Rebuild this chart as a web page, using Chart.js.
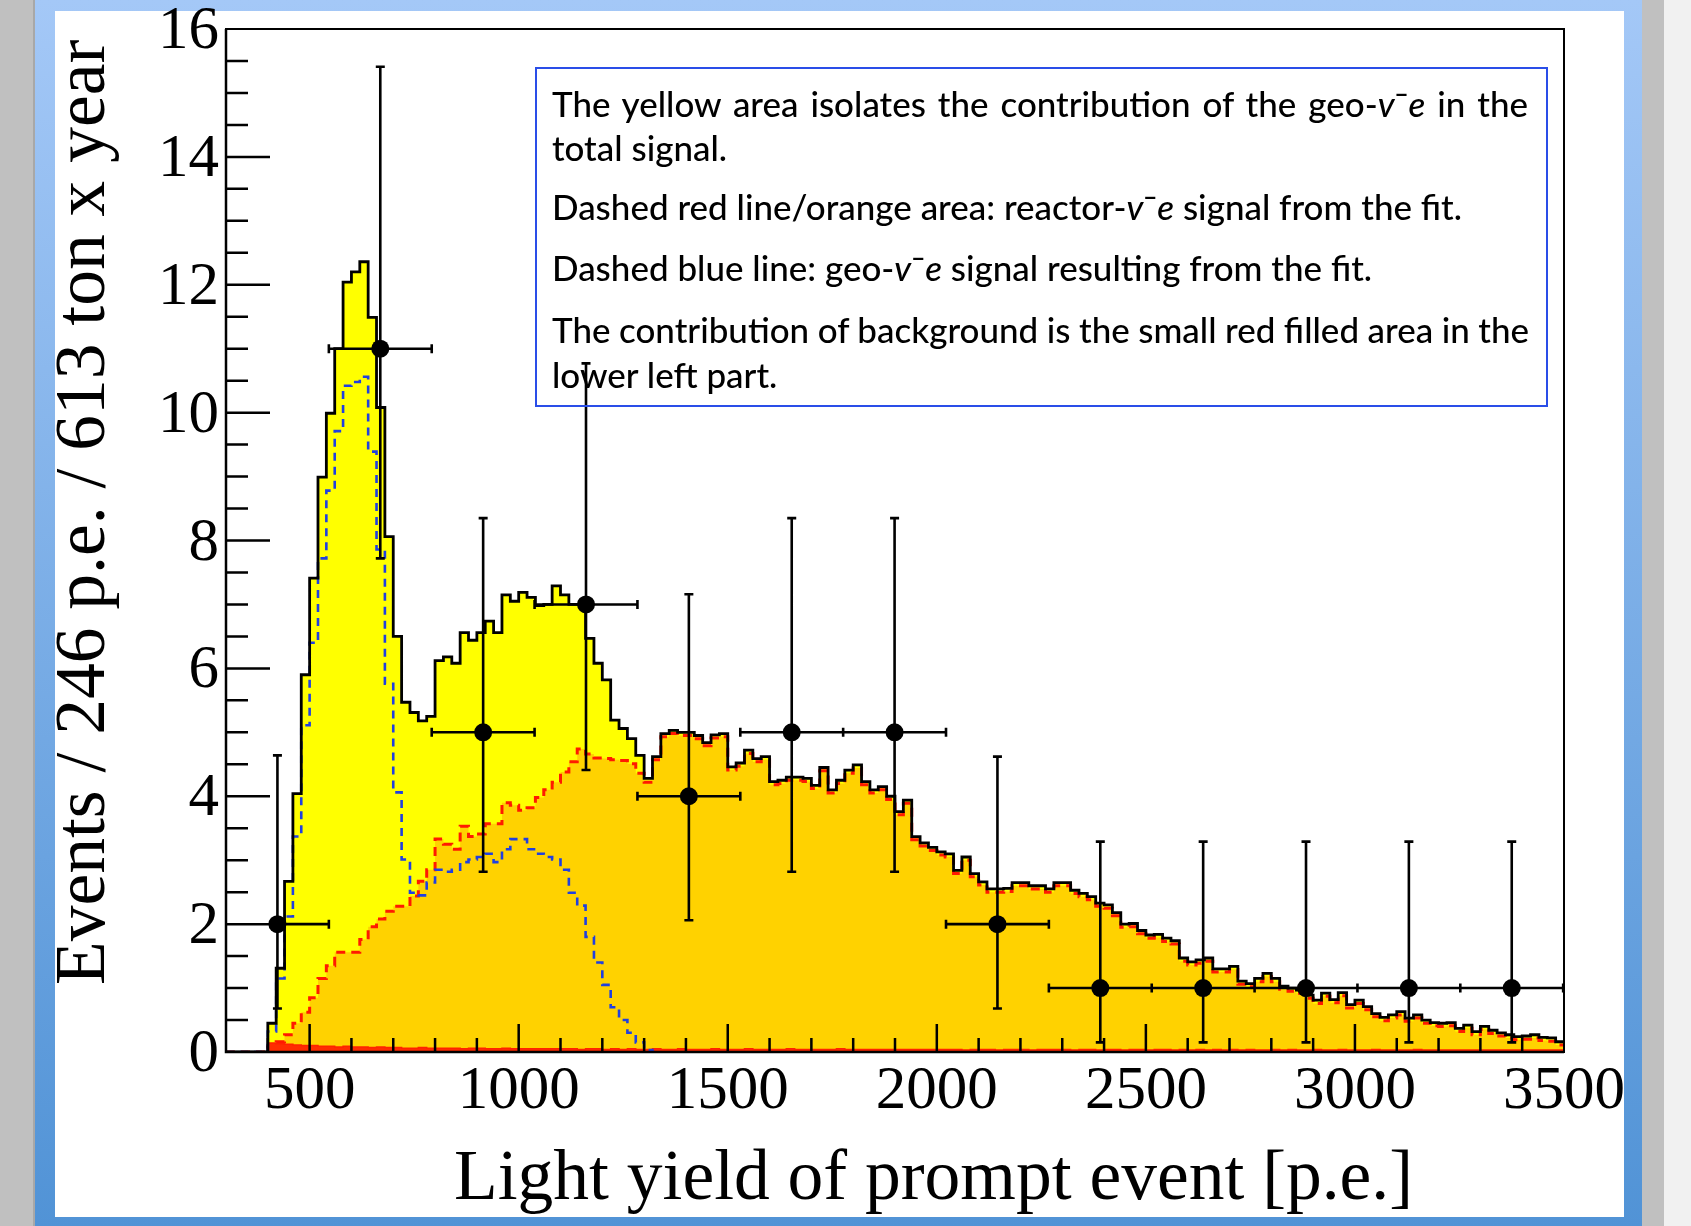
<!DOCTYPE html>
<html>
<head>
<meta charset="utf-8">
<title>Light yield of prompt events</title>
<script src="https://cdn.jsdelivr.net/npm/chart.js@4.4.0/dist/chart.umd.min.js"></script>
<style>
  html, body { margin: 0; padding: 0; }
  body { width: 1691px; height: 1226px; position: relative; overflow: hidden; background: #c0c0c0; }
  #shadow { position: absolute; left: 33px; top: 0; width: 2px; height: 1226px; background: #a8a8a8; }
  #frame { position: absolute; left: 35px; top: 0; width: 1607px; height: 1226px; background: linear-gradient(#a4c8f7, #5193d6); }
  #panel { position: absolute; left: 55px; top: 11px; width: 1569px; height: 1206px; background: #fff; }
  #rightEdge { position: absolute; left: 1664px; top: 0; width: 27px; height: 1226px; background: #f1f1f1; }
  #chart { position: absolute; left: 0; top: 0; }
  #note { position: absolute; left: 535px; top: 67px; width: 1013px; height: 340px; box-sizing: border-box; border: 2px solid #2a4ee8; }
  #note .line { position: absolute; left: 15px; top: 0; white-space: nowrap; font-family: Lato, "Open Sans", sans-serif; font-weight: 500; font-size: 35px; line-height: 1; color: #000; transform-origin: 0 0; }
  #note .base { display: inline-block; width: 0; height: 0; }
</style>
</head>
<body>
<div id="shadow"></div>
<div id="frame"></div>
<div id="panel"></div>
<div id="rightEdge"></div>
<canvas id="chart" width="1691" height="1226"></canvas>
<div id="note">
  <div class="line">The yellow area isolates the contribution of the geo-<i>v</i>¯<i>e</i> in the<span class="base"></span></div>
  <div class="line">total signal.<span class="base"></span></div>
  <div class="line">Dashed red line/orange area: reactor-<i>v</i>¯<i>e</i> signal from the fit.<span class="base"></span></div>
  <div class="line">Dashed blue line: geo-<i>v</i>¯<i>e</i> signal resulting from the fit.<span class="base"></span></div>
  <div class="line">The contribution of background is the small red filled area in the<span class="base"></span></div>
  <div class="line">lower left part.<span class="base"></span></div>
</div>
<script>
/****** Data ******/
// histograms: 20 p.e. bins starting at 300 p.e., one row = 200 p.e.
const histStart = 300;
const histStep = 20;

const totalCounts = [
    0, 0, 0, 0, 0, 0.45, 1.31, 2.67, 4.04, 5.90,            // 300
    7.41, 8.99, 9.99, 11.0, 12.04, 12.2, 12.36, 11.49, 10.08, 8.06,
    6.5, 5.47, 5.31, 5.18, 5.25, 6.12, 6.18, 6.08, 6.56, 6.44,
    6.56, 6.74, 6.56, 7.15, 7.05, 7.19, 7.11, 6.98, 7.0, 7.29,
    7.15, 7.0, 7.0, 6.47, 6.08, 5.82, 5.19, 5.06, 4.9, 4.64, // 1100
    4.28, 4.62, 4.98, 5.03, 5.0, 5.0, 4.95, 4.84, 4.96, 4.98,
    4.46, 4.52, 4.72, 4.59, 4.62, 4.23, 4.25, 4.3, 4.3, 4.28,
    4.17, 4.45, 4.1, 4.25, 4.41, 4.49, 4.23, 4.1, 4.15, 4.0,
    3.76, 3.94, 3.37, 3.27, 3.2, 3.13, 3.1, 2.84, 3.05, 2.79, // 1900
    2.66, 2.55, 2.55, 2.56, 2.65, 2.65, 2.6, 2.6, 2.55, 2.65,
    2.65, 2.53, 2.48, 2.43, 2.33, 2.3, 2.18, 2.0, 2.01, 1.9,
    1.83, 1.84, 1.78, 1.74, 1.47, 1.41, 1.44, 1.47, 1.3, 1.3,
    1.34, 1.11, 1.07, 1.15, 1.23, 1.15, 1.03, 1.0, 0.97, 0.89, // 2700
    0.81, 0.92, 0.82, 0.93, 0.74, 0.81, 0.71, 0.6, 0.54, 0.58,
    0.63, 0.53, 0.58, 0.5, 0.46, 0.45, 0.46, 0.37, 0.42, 0.32,
    0.4, 0.34, 0.3, 0.27, 0.24, 0.25, 0.27, 0.23, 0.22, 0.16
];

const reactorCounts = [
    0, 0, 0, 0, 0, 0.08, 0.16, 0.27, 0.45, 0.62,
    0.85, 1.15, 1.35, 1.56, 1.56, 1.56, 1.76, 1.96, 2.08, 2.2,
    2.28, 2.28, 2.44, 2.67, 2.85, 3.33, 3.25, 3.17, 3.53, 3.37,
    3.41, 3.57, 3.57, 3.9, 3.86, 3.78, 3.82, 3.98, 4.1, 4.22,
    4.38, 4.54, 4.74, 4.66, 4.6, 4.59, 4.57, 4.56, 4.51, 4.36,
    4.22, 4.57, 4.93, 4.98, 4.95, 4.95, 4.9, 4.79, 4.91, 4.93,
    4.41, 4.47, 4.67, 4.54, 4.57, 4.18, 4.2, 4.25, 4.25, 4.23,
    4.12, 4.4, 4.05, 4.2, 4.36, 4.44, 4.18, 4.05, 4.1, 3.95,
    3.71, 3.89, 3.32, 3.22, 3.15, 3.08, 3.05, 2.79, 3.0, 2.74,
    2.61, 2.5, 2.5, 2.51, 2.6, 2.6, 2.55, 2.55, 2.5, 2.6,
    2.6, 2.48, 2.43, 2.38, 2.28, 2.25, 2.13, 1.95, 1.96, 1.85,
    1.78, 1.79, 1.73, 1.69, 1.42, 1.36, 1.39, 1.42, 1.25, 1.25,
    1.29, 1.06, 1.02, 1.1, 1.18, 1.1, 0.98, 0.95, 0.92, 0.84,
    0.76, 0.87, 0.77, 0.88, 0.69, 0.76, 0.66, 0.55, 0.49, 0.53,
    0.58, 0.48, 0.53, 0.45, 0.41, 0.4, 0.41, 0.32, 0.37, 0.27,
    0.35, 0.29, 0.25, 0.22, 0.19, 0.2, 0.22, 0.18, 0.17, 0.11
];

const geoCounts = [
    0, 0, 0, 0, 0, 0.32, 1.15, 2.12, 3.37, 5.11,
    6.4, 7.72, 8.78, 9.71, 10.42, 10.48, 10.56, 9.39, 7.86, 5.76,
    4.06, 3.01, 2.49, 2.45, 2.65, 2.85, 2.82, 2.85, 2.97, 3.01,
    3.05, 3.1, 2.97, 3.17, 3.33, 3.33, 3.17, 3.1, 3.05, 3.01,
    2.85, 2.49, 2.29, 1.8, 1.4, 1.05, 0.7, 0.5, 0.3, 0.15,
    0.03, 0
];

const bkgCounts = [
    0, 0, 0, 0, 0, 0.14, 0.13, 0.12, 0.11, 0.1,
    0.1, 0.09, 0.09, 0.08, 0.09, 0.08, 0.08, 0.07, 0.08, 0.07,
    0.07, 0.06, 0.06, 0.07, 0.06, 0.06, 0.06, 0.06, 0.05, 0.06,
    0.06, 0.05, 0.05, 0.06, 0.05, 0.05, 0.05, 0.05, 0.05, 0.05,
    0.05, 0.05, 0.04, 0.05, 0.05, 0.04, 0.05, 0.04, 0.05, 0.04,
    0.04, 0.05, 0.04, 0.04, 0.05, 0.04, 0.04, 0.04, 0.05, 0.04,
    0.04, 0.04, 0.05, 0.04, 0.04, 0.04, 0.04, 0.05, 0.04, 0.04,
    0.04, 0.04, 0.04, 0.05, 0.04, 0.04, 0.04, 0.04, 0.04, 0.04,
    0.04, 0.04, 0.04, 0.04, 0.04, 0.04, 0.04, 0.04, 0.03, 0.04,
    0.04, 0.04, 0.03, 0.04, 0.04, 0.04, 0.03, 0.04, 0.04, 0.04,
    0.04, 0.03, 0.04, 0.04, 0.03, 0.04, 0.04, 0.03, 0.04, 0.04,
    0.03, 0.04, 0.04, 0.03, 0.04, 0.03, 0.04, 0.03, 0.04, 0.03,
    0.04, 0.03, 0.04, 0.03, 0.03, 0.04, 0.03, 0.04, 0.03, 0.03,
    0.04, 0.03, 0.03, 0.04, 0.03, 0.03, 0.03, 0.04, 0.03, 0.03,
    0.03, 0.03, 0.04, 0.03, 0.03, 0.03, 0.03, 0.03, 0.03, 0.03,
    0.03, 0.03, 0.03, 0.03, 0.03, 0.03, 0.03, 0.03, 0.03, 0.03
];

// measured events in 246 p.e. bins, with the error bar ends
const dataX     = [423, 669, 915, 1161, 1407, 1653, 1899, 2145, 2391, 2637, 2883, 3129, 3375];
const dataY     = [2, 11, 5, 7, 4, 5, 5, 2, 1, 1, 1, 1, 1];
const dataLow   = [0.68, 7.72, 2.82, 4.41, 2.06, 2.82, 2.82, 0.68, 0.15, 0.15, 0.15, 0.15, 0.15];
const dataHigh  = [4.64, 15.41, 8.35, 10.77, 7.16, 8.35, 8.35, 4.62, 3.29, 3.29, 3.29, 3.29, 3.29];
const dataXLow  = [423, 546, 792, 1038, 1284, 1530, 1776, 2022, 2268, 2514, 2760, 3006, 3252];
const dataXHigh = [546, 792, 1038, 1284, 1530, 1776, 2022, 2268, 2514, 2760, 3006, 3252, 3498];

const xTickValues = [500, 1000, 1500, 2000, 2500, 3000, 3500];
const yTickValues = [0, 2, 4, 6, 8, 10, 12, 14, 16];
const xMinorStep = 100;
const yMinorStep = 0.5;

const xTitle = "Light yield of prompt event [p.e.]";
const yTitle = "Events / 246 p.e. / 613 ton x year";

/****** Helpers ******/
const serif = '"Liberation Serif", "Times New Roman", serif';

const stepPoints = counts => {
    const pts = counts.map((v, i) => ({ x: histStart + i * histStep, y: v }));
    pts.push({ x: histStart + counts.length * histStep, y: counts[counts.length - 1] });
    return pts;
};

// 'before': each bin value is held from its low edge up to the next edge
const histLine = (counts, extra) => Object.assign({
    data: stepPoints(counts),
    stepped: 'before',
    pointRadius: 0,
    fill: false,
    borderWidth: 0
}, extra);

/****** Plugins ******/
// error bars go on top of the histograms, under the markers
const errorBars = {
    id: 'errorBars',
    afterDatasetDraw(chart, args) {
        if(args.index !== 1) return;
        const { ctx, scales: { x, y } } = chart;
        const cap = 4.5;
        ctx.save();
        ctx.strokeStyle = '#000';
        ctx.lineWidth = 2.6;
        ctx.beginPath();
        dataX.forEach((v, i) => {
            const px = x.getPixelForValue(v);
            const py = y.getPixelForValue(dataY[i]);
            const lo = y.getPixelForValue(dataLow[i]);
            const hi = y.getPixelForValue(dataHigh[i]);
            const xl = x.getPixelForValue(dataXLow[i]);
            const xh = x.getPixelForValue(dataXHigh[i]);
            ctx.moveTo(px, lo); ctx.lineTo(px, hi);
            ctx.moveTo(px - cap, lo); ctx.lineTo(px + cap, lo);
            ctx.moveTo(px - cap, hi); ctx.lineTo(px + cap, hi);
            ctx.moveTo(xl, py); ctx.lineTo(xh, py);
            if(xl < px){ ctx.moveTo(xl, py - cap); ctx.lineTo(xl, py + cap); }
            ctx.moveTo(xh, py - cap); ctx.lineTo(xh, py + cap);
        });
        ctx.stroke();
        ctx.restore();
    }
};

// ROOT style frame: ticks pointing inwards, plus axis titles
const rootFrame = {
    id: 'rootFrame',
    afterDatasetsDraw(chart) {
        const { ctx, chartArea: a, scales: { x, y } } = chart;
        ctx.save();
        ctx.strokeStyle = '#000';
        ctx.lineWidth = 2.5;
        ctx.beginPath();
        for(let v = x.min + xMinorStep; v < x.max; v += xMinorStep){
            const p = x.getPixelForValue(v);
            const len = xTickValues.includes(v) ? 28 : 14;
            ctx.moveTo(p, a.bottom); ctx.lineTo(p, a.bottom - len);
        }
        for(let v = y.min + yMinorStep; v < y.max; v += yMinorStep){
            const p = y.getPixelForValue(v);
            const len = yTickValues.includes(v) ? 44 : 22;
            ctx.moveTo(a.left, p); ctx.lineTo(a.left + len, p);
        }
        ctx.stroke();
        ctx.lineWidth = 2;
        ctx.strokeRect(a.left, a.top, a.right - a.left, a.bottom - a.top);
        ctx.lineWidth = 2.5;
        ctx.beginPath();
        ctx.moveTo(a.left, a.top); ctx.lineTo(a.left, a.bottom); ctx.lineTo(a.right, a.bottom);
        ctx.stroke();
        ctx.restore();
    },
    afterDraw(chart) {
        const { ctx } = chart;
        ctx.save();
        ctx.fillStyle = '#000';
        ctx.font = '71.5px ' + serif;
        ctx.textAlign = 'left';
        ctx.textBaseline = 'alphabetic';
        ctx.fillText(xTitle, 454, 1199);
        ctx.translate(104, 985);
        ctx.rotate(-Math.PI / 2);
        ctx.fillText(yTitle, 0, 0);
        ctx.restore();
    }
};

/****** Chart ******/
const tickFont = (lh) => ({ family: serif, size: 61, lineHeight: lh });

const config = {
    type: 'line',
    data: {
        datasets: [
            {
                type: 'scatter',
                data: dataX.map((v, i) => ({ x: v, y: dataY[i] })),
                pointRadius: 9,
                pointBackgroundColor: '#000',
                pointBorderWidth: 0,
                order: 0
            },
            histLine(totalCounts, { borderColor: '#000', borderWidth: 2.8, order: 1 }),
            histLine(geoCounts, { borderColor: '#2040e0', borderWidth: 2.6, borderDash: [8, 6], order: 2 }),
            histLine(bkgCounts, { borderColor: '#ff2200', borderWidth: 1.5, backgroundColor: '#ff2d00', fill: 'origin', order: 3 }),
            histLine(reactorCounts, { borderColor: '#ff1a00', borderWidth: 3, borderDash: [9, 6], backgroundColor: '#ffd200', fill: 'origin', order: 4 }),
            histLine(totalCounts, { backgroundColor: '#ffff00', fill: 'origin', order: 5 })
        ]
    },
    options: {
        responsive: false,
        animation: false,
        devicePixelRatio: 1,
        events: [],
        layout: {
            autoPadding: false,
            padding: { left: 0, top: 29, right: 127, bottom: 0 }
        },
        plugins: {
            legend: { display: false },
            tooltip: { enabled: false }
        },
        scales: {
            x: {
                type: 'linear',
                min: 300,
                max: 3500,
                afterBuildTicks: s => { s.ticks = xTickValues.map(v => ({ value: v })); },
                afterFit: s => { s.height = 174; },
                grid: { display: false, drawTicks: false },
                border: { display: false },
                ticks: {
                    color: '#000',
                    padding: 9,
                    autoSkip: false,
                    maxRotation: 0,
                    font: tickFont(1),
                    callback: v => String(v)
                }
            },
            y: {
                type: 'linear',
                min: 0,
                max: 16,
                afterBuildTicks: s => { s.ticks = yTickValues.map(v => ({ value: v })); },
                afterFit: s => { s.width = 226; },
                grid: { display: false, drawTicks: false },
                border: { display: false },
                ticks: {
                    color: '#000',
                    padding: 7,
                    labelOffset: 3,
                    font: tickFont(0.7),
                    callback: v => String(v)
                }
            }
        }
    },
    plugins: [errorBars, rootFrame]
};

const graph = new Chart(document.getElementById('chart'), config);

/****** Text box ******/
// target width and baseline of each line
const noteLayout = [
    { width: 976, baseline: 117, justify: true },
    { width: 178, baseline: 161 },
    { width: 910, baseline: 220 },
    { width: 816, baseline: 281 },
    { width: 977, baseline: 343, justify: true },
    { width: 227, baseline: 388 }
];

const layoutNote = () => {
    const note = document.getElementById('note');
    const lines = [...note.querySelectorAll('.line')];
    const inner = note.getBoundingClientRect().top + 2;
    const scale = noteLayout[2].width / lines[2].getBoundingClientRect().width;
    lines.forEach((el, i) => {
        const spec = noteLayout[i];
        if(spec.justify){
            const spaces = (el.textContent.match(/ /g) || []).length;
            const natural = el.getBoundingClientRect().width;
            el.style.wordSpacing = ((spec.width / scale - natural) / spaces) + 'px';
        }
        el.style.transform = `scaleX(${scale})`;
        const base = el.querySelector('.base').getBoundingClientRect().top;
        const off = base - el.getBoundingClientRect().top;
        el.style.top = (spec.baseline - inner - off) + 'px';
    });
};
layoutNote();
</script>
</body>
</html>
